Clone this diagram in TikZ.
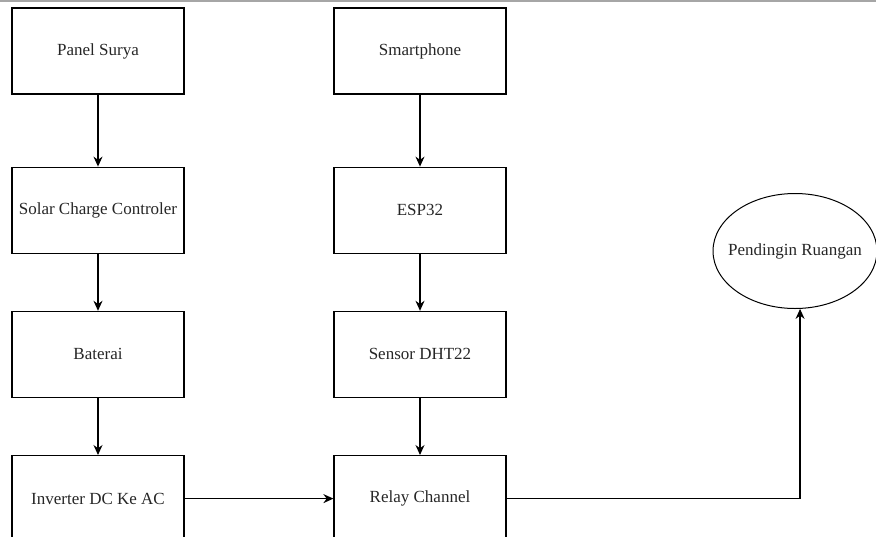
\documentclass[tikz,border=0pt]{standalone}
\usepackage{fontspec}
\setmainfont{Liberation Serif}
\usetikzlibrary{shapes.geometric, arrows.meta, positioning, calc}

\begin{document}
\begin{tikzpicture}[
    node distance=57pt,
    box/.style={draw, line width=1.2pt, align=center, minimum width=172pt,
                minimum height=86pt, inner sep=2pt, font=\fontsize{17pt}{20pt}\selectfont,
                text=black!85},
    ell/.style={draw, ellipse, line width=1pt, minimum width=164pt,
                minimum height=115pt, inner xsep=-20pt, inner ysep=0pt,
                font=\fontsize{17pt}{20pt}\selectfont, text=black!85},
    ar/.style={-{Stealth[length=10pt,width=9pt]}, line width=1.2pt},
]
\useasboundingbox (0,0) rectangle (876pt,-536pt);
\draw[gray!70, line width=2pt] (0,-0.5pt) -- (876pt,-0.5pt);
% power column
\node[box] (panel) at (98pt,-51pt) {Panel Surya};
\node[box, below=72pt of panel] (scc) {Solar Charge Controler};
\node[box, below=of scc] (bat) {Baterai};
\node[box, below=of bat] (inv) {Inverter DC Ke AC};
% control column
\node[box] (phone) at (420pt,-51pt) {Smartphone};
\node[box, below=72pt of phone] (esp) {ESP32};
\node[box, below=of esp] (dht) {Sensor DHT22};
\node[box, below=of dht] (relay) {Relay Channel};
% load
\node[ell] (cool) at (795pt,-251pt) {Pendingin Ruangan};
\draw[ar] (panel)--(scc); \draw[ar] (scc)--(bat); \draw[ar] (bat)--(inv);
\draw[ar] (phone)--(esp); \draw[ar] (esp)--(dht); \draw[ar] (dht)--(relay);
\draw[ar] (inv)--(relay);
\draw[ar] (relay.east) -| (cool.-85);
\end{tikzpicture}
\end{document}
